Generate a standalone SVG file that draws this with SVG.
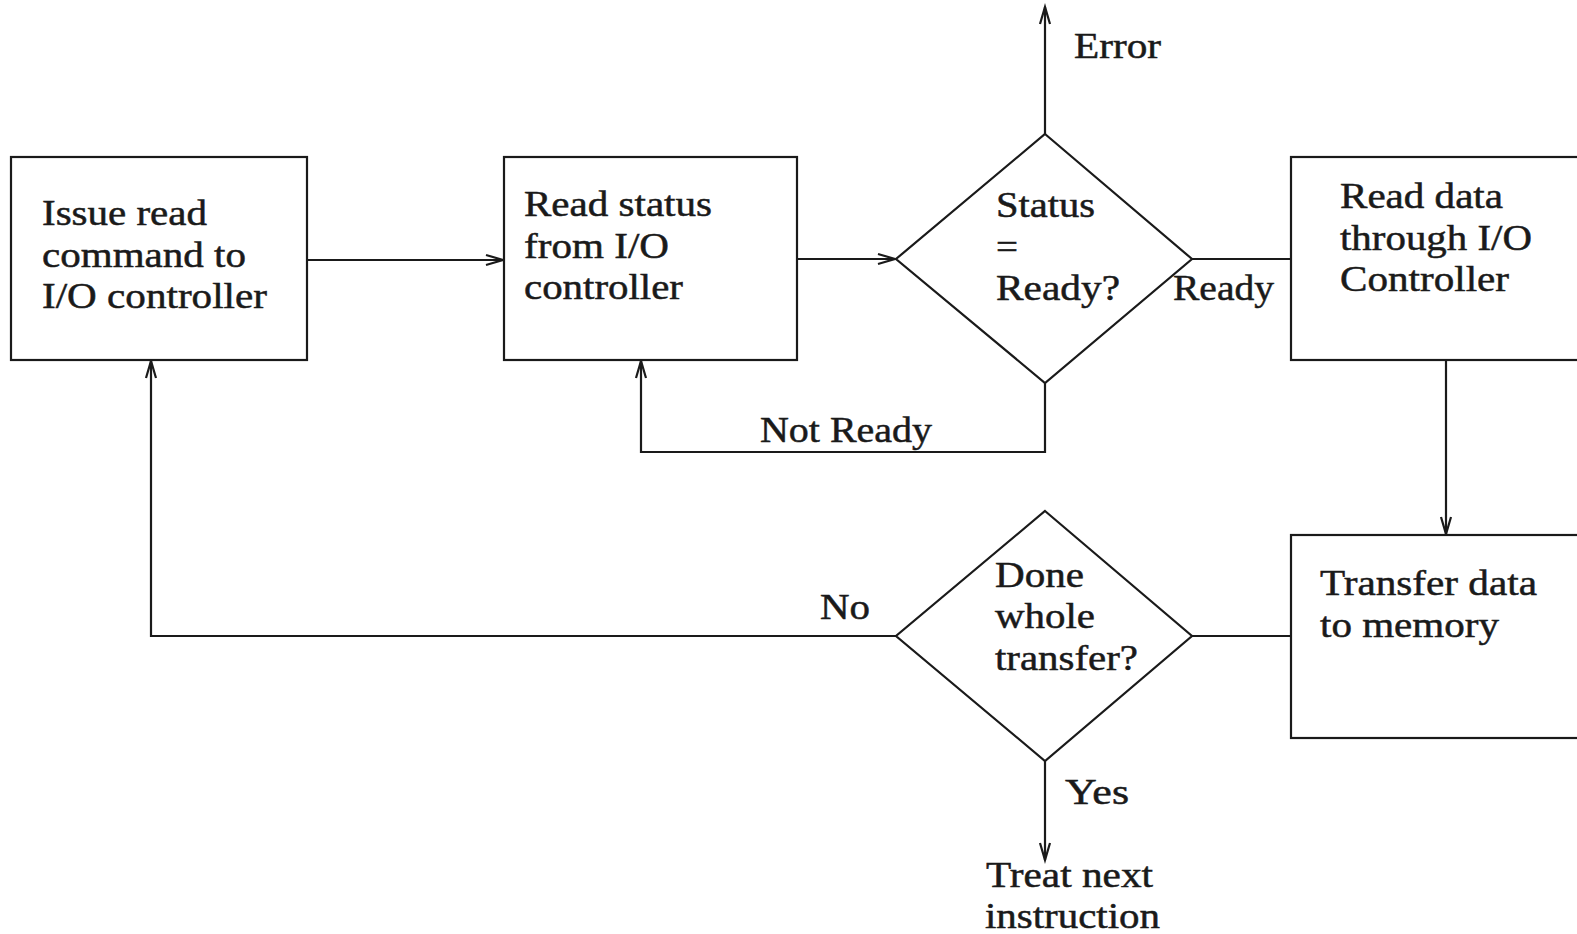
<svg xmlns="http://www.w3.org/2000/svg" width="1577" height="934" viewBox="0 0 1577 934">
<style>
.n{fill:#fff;stroke:#1a1a1a;stroke-width:2.2}
.c{fill:none;stroke:#1a1a1a;stroke-width:2.2}
text{font-family:"Liberation Serif","Times New Roman",serif;font-size:36px;fill:#1a1a1a;stroke:#1a1a1a;stroke-width:0.5}
</style>
<defs>
<marker id="ah" markerUnits="userSpaceOnUse" markerWidth="24" markerHeight="16" viewBox="-20 -8 24 16" refX="0" refY="0" orient="auto">
<path d="M-17,-5 L0,0 L-17,5" fill="none" stroke="#1a1a1a" stroke-width="2.2"/>
</marker>
</defs>
<rect width="1577" height="934" fill="#fff"/>
<g id="connectors">
<path class="c" d="M307,260 H503" marker-end="url(#ah)"/>
<path class="c" d="M797,259 H895" marker-end="url(#ah)"/>
<path class="c" d="M1045,134 V7" marker-end="url(#ah)"/>
<path class="c" d="M1192,259 H1291"/>
<path class="c" d="M1045,383 V452 H641 V361" marker-end="url(#ah)"/>
<path class="c" d="M1446,360 V534" marker-end="url(#ah)"/>
<path class="c" d="M1291,636 H1192"/>
<path class="c" d="M896,636 H151 V361" marker-end="url(#ah)"/>
<path class="c" d="M1045,761 V860" marker-end="url(#ah)"/>
<text x="1074" y="58" textLength="87" lengthAdjust="spacingAndGlyphs">Error</text>
<text x="1173" y="300" textLength="101" lengthAdjust="spacingAndGlyphs">Ready</text>
<text x="760" y="442" textLength="172" lengthAdjust="spacingAndGlyphs">Not Ready</text>
<text x="820" y="619" textLength="50" lengthAdjust="spacingAndGlyphs">No</text>
<text x="1065" y="804" textLength="64" lengthAdjust="spacingAndGlyphs">Yes</text>
<text x="986" y="887" textLength="167" lengthAdjust="spacingAndGlyphs">Treat next</text>
<text x="985" y="928" textLength="175" lengthAdjust="spacingAndGlyphs">instruction</text>
</g>
<g id="issue">
<rect class="n" x="11" y="157" width="296" height="203"/>
<text x="42" y="225" textLength="165" lengthAdjust="spacingAndGlyphs">Issue read</text>
<text x="42" y="267" textLength="204" lengthAdjust="spacingAndGlyphs">command to</text>
<text x="42" y="308" textLength="225" lengthAdjust="spacingAndGlyphs">I/O controller</text>
</g>
<g id="readstatus">
<rect class="n" x="504" y="157" width="293" height="203"/>
<text x="524" y="216" textLength="188" lengthAdjust="spacingAndGlyphs">Read status</text>
<text x="524" y="258" textLength="145" lengthAdjust="spacingAndGlyphs">from I/O</text>
<text x="524" y="299" textLength="159" lengthAdjust="spacingAndGlyphs">controller</text>
</g>
<g id="statusready">
<polygon class="n" points="1045,134 1192,259 1045,383 896,259"/>
<text x="996" y="217" textLength="99" lengthAdjust="spacingAndGlyphs">Status</text>
<text x="996" y="259" textLength="22" lengthAdjust="spacingAndGlyphs">=</text>
<text x="996" y="300" textLength="124" lengthAdjust="spacingAndGlyphs">Ready?</text>
</g>
<g id="readdata">
<rect class="n" x="1291" y="157" width="300" height="203"/>
<text x="1340" y="208" textLength="163" lengthAdjust="spacingAndGlyphs">Read data</text>
<text x="1340" y="250" textLength="192" lengthAdjust="spacingAndGlyphs">through I/O</text>
<text x="1340" y="291" textLength="169" lengthAdjust="spacingAndGlyphs">Controller</text>
</g>
<g id="transfer">
<rect class="n" x="1291" y="535" width="300" height="203"/>
<text x="1320" y="595" textLength="217" lengthAdjust="spacingAndGlyphs">Transfer data</text>
<text x="1320" y="637" textLength="179" lengthAdjust="spacingAndGlyphs">to memory</text>
</g>
<g id="done">
<polygon class="n" points="1045,511 1192,636 1045,761 896,636"/>
<text x="995" y="587" textLength="89" lengthAdjust="spacingAndGlyphs">Done</text>
<text x="995" y="628" textLength="100" lengthAdjust="spacingAndGlyphs">whole</text>
<text x="995" y="670" textLength="143" lengthAdjust="spacingAndGlyphs">transfer?</text>
</g>
</svg>
